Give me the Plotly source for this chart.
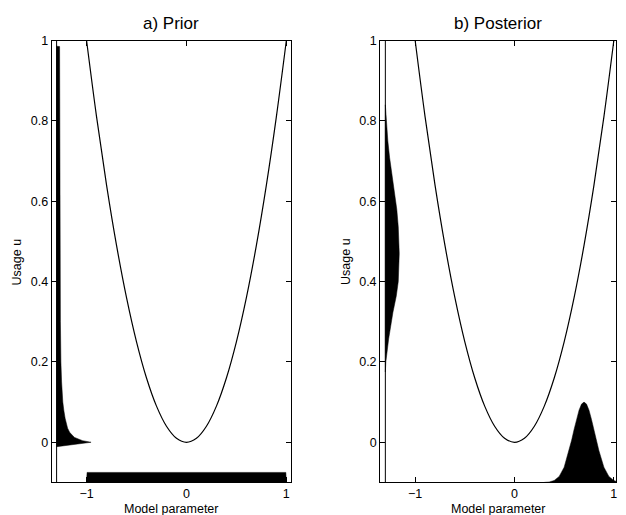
import plotly.graph_objects as go

# ---- data ----
# model curve u(x)
curve_x = [-1.0, -0.9, -0.8, -0.7, -0.6, -0.5, -0.4, -0.3, -0.2, -0.1, 0.0,
           0.1, 0.2, 0.3, 0.4, 0.5, 0.6, 0.7, 0.8, 0.9, 1.0]
curve_u = [1.0, 0.81, 0.64, 0.49, 0.36, 0.25, 0.16, 0.09, 0.04, 0.01, 0.0,
           0.01, 0.04, 0.09, 0.16, 0.25, 0.36, 0.49, 0.64, 0.81, 1.0]

# prior density of usage u (drawn sideways from the marker line)
prior_u = [-0.011, 0.0, 0.004, 0.008, 0.012, 0.018, 0.025, 0.035, 0.045, 0.06,
           0.08, 0.1, 0.15, 0.2, 0.3, 0.5, 0.7, 0.9, 0.985, 0.986]
prior_u_dens = [0.0, 0.345, 0.26, 0.21, 0.18, 0.155, 0.13, 0.11, 0.098, 0.085,
                0.072, 0.062, 0.05, 0.043, 0.038, 0.034, 0.032, 0.031, 0.03, 0.0]

# prior density of model parameter (uniform)
prior_x = [-1.0, -0.995, 0.995, 1.0]
prior_x_dens = [0.0, 0.025, 0.025, 0.0]

# posterior density of usage u
post_u = [0.175, 0.2, 0.257, 0.3, 0.323, 0.364, 0.4, 0.47, 0.536, 0.58, 0.6,
          0.667, 0.708, 0.75, 0.79, 0.84]
post_u_dens = [0.0, 0.005, 0.033, 0.058, 0.076, 0.11, 0.13, 0.14, 0.13, 0.115,
               0.103, 0.06, 0.043, 0.025, 0.012, 0.0]

# posterior density of model parameter
post_x = [0.30, 0.35, 0.40, 0.45, 0.50, 0.55, 0.575, 0.60, 0.625, 0.65, 0.675,
          0.70, 0.725, 0.75, 0.775, 0.80, 0.825, 0.85, 0.90, 0.95, 1.00, 1.05]
post_x_dens = [0.0, 0.001, 0.005, 0.015, 0.038, 0.079, 0.105, 0.132, 0.157,
               0.18, 0.195, 0.2, 0.195, 0.18, 0.157, 0.132, 0.105, 0.079,
               0.038, 0.015, 0.005, 0.001]

u_line_x = -1.3     # position of the sideways density baseline
x_base_u = -0.1     # baseline of parameter density (bottom of axes)

W, H = 626, 515

fig = go.Figure()


def add_panel(xa, ya, u_vals, u_dens, x_vals, x_dens):
    # parabola
    fig.add_trace(go.Scatter(x=curve_x, y=curve_u, mode="lines",
                             line=dict(color="black", width=1.2, shape="spline"),
                             xaxis=xa, yaxis=ya, hoverinfo="skip"))
    # vertical baseline
    fig.add_trace(go.Scatter(x=[u_line_x, u_line_x], y=[-0.1, 1.0], mode="lines",
                             line=dict(color="black", width=1),
                             xaxis=xa, yaxis=ya, hoverinfo="skip"))
    # sideways u density
    px_ = [u_line_x + d for d in u_dens] + [u_line_x, u_line_x]
    py_ = list(u_vals) + [u_vals[-1], u_vals[0]]
    fig.add_trace(go.Scatter(x=px_, y=py_, mode="lines", fill="toself",
                             fillcolor="black", line=dict(color="black", width=0.5),
                             xaxis=xa, yaxis=ya, hoverinfo="skip"))
    # parameter density
    qx = list(x_vals) + [x_vals[-1], x_vals[0]]
    qy = [x_base_u + d for d in x_dens] + [x_base_u, x_base_u]
    fig.add_trace(go.Scatter(x=qx, y=qy, mode="lines", fill="toself",
                             fillcolor="black", line=dict(color="black", width=0.5),
                             xaxis=xa, yaxis=ya, hoverinfo="skip"))


add_panel("x", "y", prior_u, prior_u_dens, prior_x, prior_x_dens)
add_panel("x2", "y2", post_u, post_u_dens, post_x, post_x_dens)

font = "Liberation Sans, Arial, Helvetica, sans-serif"
xtv = [-1, 0, 1]
xtt = ["\u22121", "0", "1"]
ytv = [0, 0.2, 0.4, 0.6, 0.8, 1.0]
ytt = ["0", "0.2", "0.4", "0.6", "0.8", "1"]

ax_common = dict(showline=True, linecolor="black", linewidth=1, mirror="ticks",
                 ticks="inside", ticklen=5, tickcolor="black", tickwidth=1,
                 showgrid=False, zeroline=False,
                 tickfont=dict(family=font, size=12.5, color="black"))

y_dom = [1 - 482 / H, 1 - 34 / H]

fig.update_layout(
    width=W, height=H, margin=dict(l=0, r=0, t=0, b=0),
    paper_bgcolor="white", plot_bgcolor="white", showlegend=False,
    xaxis=dict(domain=[51.7 / W, 291.3 / W], range=[-1.35, 1.045],
               tickvals=xtv, ticktext=xtt, anchor="y", **ax_common),
    yaxis=dict(domain=y_dom, range=[-0.1, 1.0], tickvals=ytv, ticktext=ytt,
               anchor="x", **ax_common),
    xaxis2=dict(domain=[380.7 / W, 617.3 / W], range=[-1.353, 1.025],
                tickvals=xtv, ticktext=xtt, anchor="y2", **ax_common),
    yaxis2=dict(domain=y_dom, range=[-0.1, 1.0], tickvals=ytv, ticktext=ytt,
                anchor="x2", **ax_common),
)

ann = []
ann.append(dict(text="a) Prior", x=171.5 / W, y=1 - 17 / H, xref="paper", yref="paper",
                showarrow=False, font=dict(family=font, size=17, color="black"),
                xanchor="center", yanchor="middle"))
ann.append(dict(text="b) Posterior", x=499 / W, y=1 - 17 / H, xref="paper", yref="paper",
                showarrow=False, font=dict(family=font, size=17, color="black"),
                xanchor="center", yanchor="middle"))
for cx in (171.5, 499):
    ann.append(dict(text="Model parameter", x=cx / W, y=1 - 508.5 / H, xref="paper",
                    yref="paper", showarrow=False,
                    font=dict(family=font, size=12.5, color="black"),
                    xanchor="center", yanchor="middle"))
for lx in (18, 347):
    ann.append(dict(text="Usage u", x=lx / W, y=1 - 258 / H, xref="paper",
                    yref="paper", showarrow=False, textangle=-90,
                    font=dict(family=font, size=12.5, color="black"),
                    xanchor="center", yanchor="middle"))
fig.update_layout(annotations=ann)

fig.write_html("out.html", config={"displayModeBar": False},
               post_script="document.body.style.margin='0';"
                           "document.body.style.padding='0';"
                           "document.documentElement.style.overflow='hidden';")
